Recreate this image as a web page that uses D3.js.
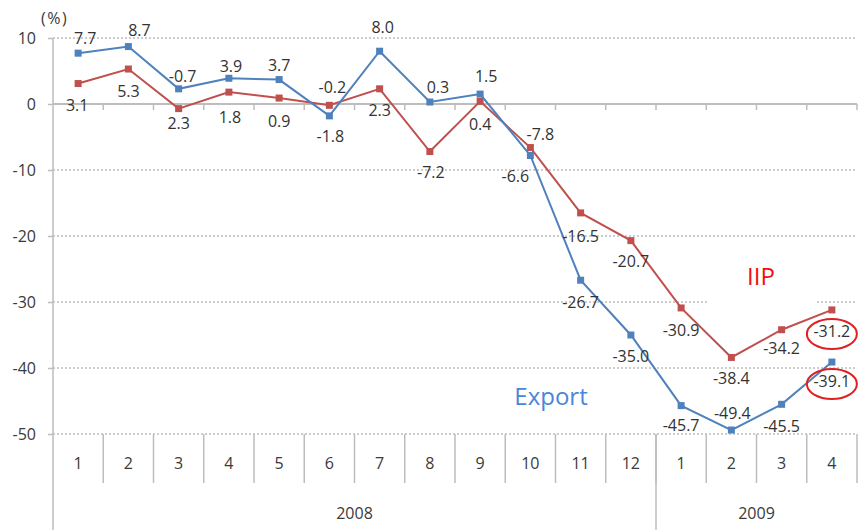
<!DOCTYPE html>
<html>
<head>
<meta charset="utf-8">
<script src="https://cdn.jsdelivr.net/npm/d3@7"></script>
<style>
  body { margin: 0; background: #fff; }
  svg { display: block; }
  text { font-family: "Open Sans", "Noto Sans", sans-serif; }
</style>
</head>
<body>
<svg id="chart" width="858" height="530"></svg>
<script>
// Monthly year-on-year change (%), Jan 2008 – Apr 2009
const months = ["1","2","3","4","5","6","7","8","9","10","11","12","1","2","3","4"];
const years = ["2008", "2009"];
const monthsPerYear = [12, 4];
const exportGrowth = [7.7, 8.7, 2.3, 3.9, 3.7, -1.8, 8.0, 0.3, 1.5, -7.8, -26.7, -35.0, -45.7, -49.4, -45.5, -39.1];
const iipGrowth = [3.1, 5.3, -0.7, 1.8, 0.9, -0.2, 2.3, -7.2, 0.4, -6.6, -16.5, -20.7, -30.9, -38.4, -34.2, -31.2];
const yTicks = [10, 0, -10, -20, -30, -40, -50];

// Where each value label sits relative to its marker (px)
const exportLabelShift = [[7,-15],[11,-16],[0,35],[2,-12],[0,-14],[1,21],[3,-24],[8,-15],[6,-18],[10,-21],[0,22],[0,21],[0,20],[1,-17],[0,22],[0,19]];
const iipLabelShift = [[-1,22],[0,22],[4,-32],[1,25],[0,23],[3,-18],[0,22],[1,21],[0,23],[-15,29],[0,23],[0,21],[0,22],[0,21],[0,19],[0,21]];

// Plain hyphen for negative numbers
const locale = d3.formatLocale({ decimal: ".", thousands: ",", grouping: [3], currency: ["", ""], minus: "-" });
const fmtInt = locale.format("d");
const fmtOne = locale.format(".1f");

const svg = d3.select("#chart");
const plotLeft = 53, plotRight = 857, plotTop = 38, plotBottom = 434;

const keys = months.map((m, i) => i);
const x = d3.scaleBand().domain(keys).range([plotLeft, plotRight]).paddingInner(0).paddingOuter(0);
const y = d3.scaleLinear().domain([-50, 10]).range([plotBottom, plotTop]);
const cx = i => x(i) + x.bandwidth() / 2;
const edge = d => d < keys.length ? x(d) : plotRight;

const gridColor = "#bdbdbd";
const textColor = "#3a3a3a";

// Dotted horizontal gridlines
svg.append("g").selectAll("line")
  .data(yTicks.filter(v => v !== 0))
  .join("line")
  .attr("x1", plotLeft).attr("x2", plotRight)
  .attr("y1", d => y(d)).attr("y2", d => y(d))
  .attr("stroke", gridColor).attr("stroke-width", 1.5)
  .attr("stroke-dasharray", "2,2");

// Y axis
const yAxis = d3.axisLeft(y).tickValues(yTicks).tickSize(5).tickPadding(12).tickFormat(fmtInt);
const gy = svg.append("g").attr("transform", `translate(${plotLeft},0)`).call(yAxis);
gy.select(".domain").remove();
gy.selectAll(".tick line").attr("stroke", gridColor).attr("stroke-width", 1.5);
gy.selectAll(".tick text").attr("fill", textColor).style("font-size", "16px")
  .style("font-family", "'Open Sans', 'Noto Sans', sans-serif");
svg.append("line")
  .attr("x1", plotLeft).attr("x2", plotLeft).attr("y1", plotTop).attr("y2", 530)
  .attr("stroke", gridColor).attr("stroke-width", 1.5);

// Zero line with category ticks
svg.append("line")
  .attr("x1", plotLeft).attr("x2", plotRight).attr("y1", y(0)).attr("y2", y(0))
  .attr("stroke", gridColor).attr("stroke-width", 2);
svg.append("g").selectAll("line")
  .data(keys.slice(1).concat([keys.length]))
  .join("line")
  .attr("x1", edge).attr("x2", edge)
  .attr("y1", y(0)).attr("y2", y(0) + 6)
  .attr("stroke", gridColor).attr("stroke-width", 1.5);

// Two-level category axis below the plot
const monthAxis = svg.append("g");
monthAxis.selectAll("line")
  .data(keys.slice(1).concat([keys.length]))
  .join("line")
  .attr("x1", edge).attr("x2", edge)
  .attr("y1", plotBottom).attr("y2", 483)
  .attr("stroke", gridColor).attr("stroke-width", 1.5);
monthAxis.selectAll("text")
  .data(months)
  .join("text")
  .attr("x", (d, i) => cx(i)).attr("y", 463)
  .attr("dy", "0.35em").attr("text-anchor", "middle")
  .attr("fill", textColor).style("font-size", "16px")
  .text(d => d);

let start = 0;
const yearSpans = years.map((yr, k) => {
  const s = start; start += monthsPerYear[k];
  return { label: yr, x0: x(s), x1: edge(start) };
});
svg.append("g").selectAll("line")
  .data(yearSpans.slice(1))
  .join("line")
  .attr("x1", d => d.x0).attr("x2", d => d.x0)
  .attr("y1", plotBottom).attr("y2", 530)
  .attr("stroke", gridColor).attr("stroke-width", 1.5);
svg.append("g").selectAll("text")
  .data(yearSpans)
  .join("text")
  .attr("x", d => (d.x0 + d.x1) / 2).attr("y", 513)
  .attr("dy", "0.35em").attr("text-anchor", "middle")
  .attr("fill", textColor).style("font-size", "16px")
  .text(d => d.label);

// Unit label
svg.append("text").attr("x", 41).attr("y", 18).attr("dy", "0.35em")
  .attr("fill", textColor).style("font-size", "16px").style("letter-spacing", "1.5px").text("(%)");

// White box behind the IIP caption
svg.append("rect").attr("x", 707).attr("y", 255).attr("width", 108).attr("height", 50).attr("fill", "#fff");

// Series
const series = [
  { name: "IIP", values: iipGrowth, color: "#c0504d", shift: iipLabelShift },
  { name: "Export", values: exportGrowth, color: "#4f81bd", shift: exportLabelShift }
];
const line = d3.line().x((d, i) => cx(i)).y(d => y(d));

series.forEach(s => {
  const g = svg.append("g");
  g.append("path").datum(s.values)
    .attr("d", line).attr("fill", "none")
    .attr("stroke", s.color).attr("stroke-width", 2);
  g.selectAll("rect").data(s.values).join("rect")
    .attr("x", (d, i) => cx(i) - 3.5).attr("y", d => y(d) - 3.5)
    .attr("width", 7).attr("height", 7).attr("fill", s.color);
});

// Value labels
series.forEach(s => {
  svg.append("g").selectAll("text").data(s.values).join("text")
    .attr("x", (d, i) => cx(i) + s.shift[i][0])
    .attr("y", (d, i) => y(d) + s.shift[i][1])
    .attr("dy", "0.35em").attr("text-anchor", "middle")
    .attr("fill", "#333").style("font-size", "16px")
    .text(d => fmtOne(d));
});

// Highlight the latest month's values
series.forEach(s => {
  const i = s.values.length - 1;
  svg.append("ellipse")
    .attr("cx", cx(i)).attr("cy", y(s.values[i]) + s.shift[i][1] + 3)
    .attr("rx", 25).attr("ry", 15)
    .attr("fill", "none").attr("stroke", "#e02020").attr("stroke-width", 2);
});

// Series captions
svg.append("text").attr("x", 761).attr("y", 277).attr("dy", "0.35em")
  .attr("text-anchor", "middle").attr("fill", "#f01010").style("font-size", "24px").text("IIP");
svg.append("text").attr("x", 551).attr("y", 397).attr("dy", "0.35em")
  .attr("text-anchor", "middle").attr("fill", "#4a86d8").style("font-size", "24px").text("Export");
</script>
</body>
</html>
